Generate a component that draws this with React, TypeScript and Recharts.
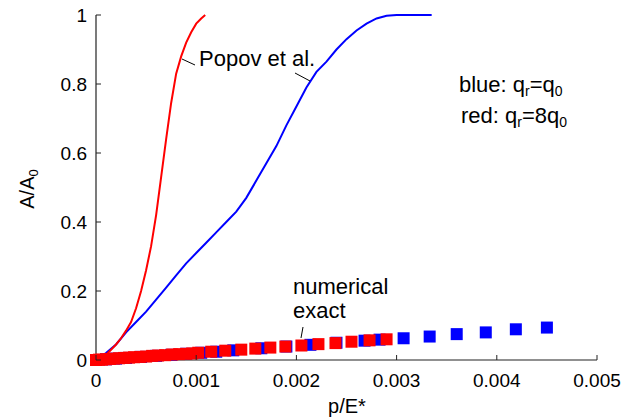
import React from "react";
import { ComposedChart, Line, Scatter, XAxis, YAxis } from "recharts";

const xTicks = [0, 0.001, 0.002, 0.003, 0.004, 0.005];
const yTicks = [0, 0.2, 0.4, 0.6, 0.8, 1];

// Popov et al., q_r = 8 q_0 (red line)
const popovRedX = [0, 0.0001, 0.0002, 0.00025, 0.0003, 0.00035, 0.0004, 0.00045, 0.0005, 0.00055, 0.0006, 0.00065, 0.0007, 0.00075, 0.0008, 0.00085, 0.0009, 0.00095, 0.001, 0.00105, 0.00109];
const popovRedY = [0, 0.015, 0.045, 0.063, 0.085, 0.11, 0.15, 0.2, 0.26, 0.33, 0.42, 0.53, 0.64, 0.745, 0.83, 0.88, 0.92, 0.95, 0.975, 0.99, 1.0];

// Popov et al., q_r = q_0 (blue line)
const popovBlueX = [0, 0.0001, 0.0002, 0.0003, 0.0004, 0.0005, 0.0006, 0.0007, 0.0008, 0.0009, 0.001, 0.0011, 0.0012, 0.0013, 0.0014, 0.0015, 0.0016, 0.0017, 0.0018, 0.0019, 0.002, 0.0021, 0.0022, 0.0023, 0.0024, 0.0025, 0.0026, 0.0027, 0.0028, 0.0029, 0.003, 0.00335];
const popovBlueY = [0, 0.02, 0.045, 0.08, 0.11, 0.14, 0.175, 0.21, 0.245, 0.28, 0.31, 0.34, 0.37, 0.4, 0.43, 0.47, 0.52, 0.57, 0.62, 0.68, 0.735, 0.79, 0.835, 0.865, 0.9, 0.93, 0.955, 0.975, 0.99, 0.998, 1.0, 1.0];

// numerical exact, q_r = 8 q_0 (red squares)
const exactRedX = [0, 0.00003, 0.00006, 0.0001, 0.00014, 0.00018, 0.00023, 0.00028, 0.00033, 0.00038, 0.00044, 0.0005, 0.00056, 0.00062, 0.00069, 0.00076, 0.00083, 0.0009, 0.00096, 0.00102, 0.00115, 0.00129, 0.00145, 0.00159, 0.00174, 0.00189, 0.00205, 0.00222, 0.00239, 0.00255, 0.00273, 0.0029];
const exactRedY = [0, 0.001, 0.001, 0.002, 0.003, 0.004, 0.005, 0.006, 0.007, 0.008, 0.009, 0.01, 0.012, 0.013, 0.014, 0.016, 0.017, 0.018, 0.019, 0.021, 0.024, 0.027, 0.03, 0.033, 0.036, 0.039, 0.042, 0.046, 0.049, 0.053, 0.057, 0.06];

// numerical exact, q_r = q_0 (blue squares)
const exactBlueX = [0, 0.0001, 0.0002, 0.0003, 0.00045, 0.0006, 0.00075, 0.0009, 0.00105, 0.0012, 0.00137, 0.00165, 0.0019, 0.00214, 0.0024, 0.00268, 0.00283, 0.00307, 0.00333, 0.0036, 0.00389, 0.00419, 0.0045];
const exactBlueY = [0, 0.002, 0.004, 0.006, 0.009, 0.012, 0.015, 0.018, 0.021, 0.024, 0.028, 0.034, 0.039, 0.044, 0.05, 0.056, 0.059, 0.063, 0.068, 0.075, 0.08, 0.089, 0.094];

const toPts = (xs: number[], ys: number[]) => xs.map((x, i) => ({ x, y: ys[i] }));
const redLine = toPts(popovRedX, popovRedY);
const blueLine = toPts(popovBlueX, popovBlueY);
const redSq = toPts(exactRedX, exactRedY);
const blueSq = toPts(exactBlueX, exactBlueY);

const FONT = "'Liberation Sans', Arial, Helvetica, sans-serif";
const AX = "#222";
const TL = 5;

const BottomTick = (p: any) => (
  <g>
    <line x1={p.x} y1={p.y} x2={p.x} y2={p.y - TL} stroke={AX} strokeWidth={1} />
    <text x={p.x} y={p.y + 27} textAnchor="middle" fontSize={19} fontFamily={FONT} fill="#000">
      {String(p.payload.value)}
    </text>
  </g>
);
const LeftTick = (p: any) => (
  <g>
    <line x1={p.x} y1={p.y} x2={p.x + TL} y2={p.y} stroke={AX} strokeWidth={1} />
    <text x={p.x - 9} y={p.y + 7} textAnchor="end" fontSize={19} fontFamily={FONT} fill="#000">
      {String(p.payload.value)}
    </text>
  </g>
);
const TopTick = (p: any) => (
  <line x1={p.x} y1={p.y} x2={p.x} y2={p.y + TL} stroke={AX} strokeWidth={1} />
);
const RightTick = (p: any) => (
  <line x1={p.x} y1={p.y} x2={p.x - TL} y2={p.y} stroke={AX} strokeWidth={1} />
);

const square = (color: string) => (p: any) => (
  <rect x={p.cx - 6} y={p.cy - 6} width={12} height={12} fill={color} />
);

export default function App() {
  return (
    <div style={{ position: "absolute", left: 0, top: 0, width: 636, height: 420, background: "#fff" }}>
      <ComposedChart
        width={636}
        height={420}
        margin={{ top: 15, right: 39, bottom: 30, left: 36 }}
      >
        <XAxis
          xAxisId="b"
          dataKey="x"
          type="number"
          domain={[0, 0.005]}
          ticks={xTicks}
          tickSize={0}
          tickMargin={0}
          height={30}
          axisLine={{ stroke: AX, strokeWidth: 1.2 }}
          tickLine={false}
          tick={BottomTick}
          interval={0}
        />
        <XAxis
          xAxisId="t"
          orientation="top"
          dataKey="x"
          type="number"
          domain={[0, 0.005]}
          ticks={xTicks}
          tickSize={0}
          tickMargin={0}
          height={0}
          axisLine={{ stroke: AX, strokeWidth: 1.2 }}
          tickLine={false}
          tick={TopTick}
          interval={0}
        />
        <YAxis
          yAxisId="l"
          dataKey="y"
          type="number"
          domain={[0, 1]}
          ticks={yTicks}
          tickSize={0}
          tickMargin={0}
          width={60}
          axisLine={{ stroke: AX, strokeWidth: 1.2 }}
          tickLine={false}
          tick={LeftTick}
          interval={0}
        />
        <YAxis
          yAxisId="r"
          orientation="right"
          dataKey="y"
          type="number"
          domain={[0, 1]}
          ticks={yTicks}
          tickSize={0}
          tickMargin={0}
          width={0}
          axisLine={{ stroke: AX, strokeWidth: 1.2 }}
          tickLine={false}
          tick={RightTick}
          interval={0}
        />
        <Scatter xAxisId="b" yAxisId="l" data={blueSq} fill="#0000ff" shape={square("#0000ff")} isAnimationActive={false} />
        <Scatter xAxisId="b" yAxisId="l" data={redSq} fill="#ff0000" shape={square("#ff0000")} isAnimationActive={false} />
        <Line xAxisId="b" yAxisId="l" data={blueLine} dataKey="y" type="linear" stroke="#0000ff" strokeWidth={2} dot={false} activeDot={false} isAnimationActive={false} />
        <Line xAxisId="b" yAxisId="l" data={redLine} dataKey="y" type="linear" stroke="#ff0000" strokeWidth={2} dot={false} activeDot={false} isAnimationActive={false} />
      </ComposedChart>
      <svg width={636} height={420} style={{ position: "absolute", left: 0, top: 0, pointerEvents: "none" }}>
        <g fontFamily={FONT} fill="#000">
          <text x={199} y={66} fontSize={22}>Popov et al.</text>
          <line x1={182} y1={59} x2={195} y2={65} stroke="#000" strokeWidth={1} />
          <line x1={295} y1={73} x2={310} y2={81} stroke="#000" strokeWidth={1} />
          <text x={293} y={294} fontSize={22}>numerical</text>
          <text x={293} y={318} fontSize={22}>exact</text>
          <line x1={303} y1={327} x2={301} y2={338} stroke="#000" strokeWidth={1} />
          <text x={459} y={92} fontSize={22}>
            blue: q<tspan fontSize={14} dy={4}>r</tspan>
            <tspan dy={-4}>=q</tspan>
            <tspan fontSize={14} dy={4}>0</tspan>
          </text>
          <text x={461} y={123} fontSize={22}>
            red: q<tspan fontSize={14} dy={4}>r</tspan>
            <tspan dy={-4}>=8q</tspan>
            <tspan fontSize={14} dy={4}>0</tspan>
          </text>
          <text x={347} y={413} fontSize={20} textAnchor="middle">p/E*</text>
          <text transform="translate(34,189) rotate(-90)" fontSize={20} textAnchor="middle">
            A/A<tspan fontSize={13} dy={4}>0</tspan>
          </text>
        </g>
      </svg>
    </div>
  );
}
